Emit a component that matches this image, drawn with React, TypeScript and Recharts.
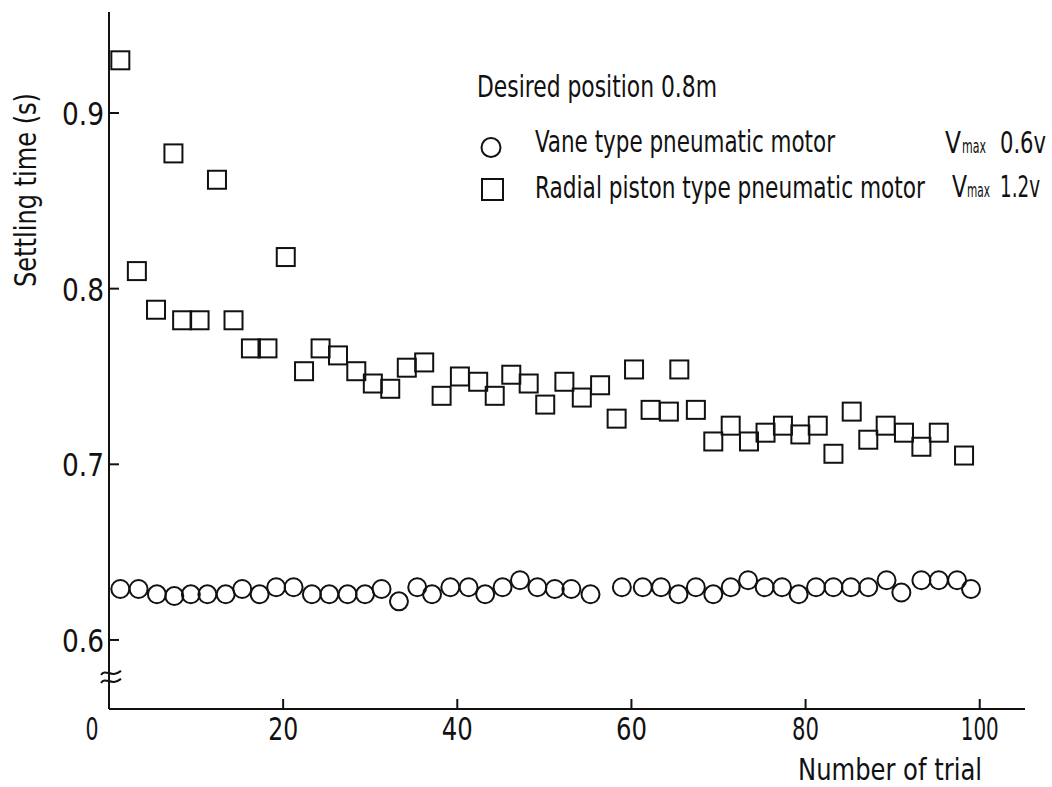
import React from "react";
import { ScatterChart, Scatter, XAxis, YAxis, ReferenceDot } from "recharts";

const xTicks = [0, 20, 40, 60, 80, 100];
const yTicks = [0.6, 0.7, 0.8, 0.9];

const vaneTrials = [1.3, 3.4, 5.5, 7.5, 9.4, 11.3, 13.4, 15.3, 17.3, 19.2, 21.2, 23.3, 25.3, 27.4, 29.4, 31.3, 33.3, 35.4, 37.1, 39.2, 41.3, 43.2, 45.2, 47.2, 49.2, 51.2, 53.1, 55.3, 58.9, 61.3, 63.4, 65.4, 67.4, 69.4, 71.4, 73.4, 75.3, 77.3, 79.2, 81.2, 83.2, 85.2, 87.2, 89.3, 91.0, 93.3, 95.3, 97.4, 99.0];
const vaneTimes = [0.629, 0.629, 0.626, 0.625, 0.626, 0.626, 0.626, 0.629, 0.626, 0.630, 0.630, 0.626, 0.626, 0.626, 0.626, 0.629, 0.622, 0.630, 0.626, 0.630, 0.630, 0.626, 0.630, 0.634, 0.630, 0.629, 0.629, 0.626, 0.630, 0.630, 0.630, 0.626, 0.630, 0.626, 0.630, 0.634, 0.630, 0.630, 0.626, 0.630, 0.630, 0.630, 0.630, 0.634, 0.627, 0.634, 0.634, 0.634, 0.629];

const pistonTrials = [1.3, 3.2, 5.4, 7.4, 8.4, 10.4, 12.4, 14.3, 16.3, 18.2, 20.3, 22.4, 24.3, 26.3, 28.4, 30.3, 32.3, 34.2, 36.2, 38.2, 40.3, 42.4, 44.3, 46.2, 48.2, 50.1, 52.3, 54.3, 56.4, 58.3, 60.3, 62.2, 64.3, 65.5, 67.4, 69.4, 71.4, 73.5, 75.4, 77.4, 79.4, 81.4, 83.2, 85.3, 87.2, 89.2, 91.3, 93.3, 95.3, 98.2];
const pistonTimes = [0.930, 0.810, 0.788, 0.877, 0.782, 0.782, 0.862, 0.782, 0.766, 0.766, 0.818, 0.753, 0.766, 0.762, 0.753, 0.746, 0.743, 0.755, 0.758, 0.739, 0.750, 0.747, 0.739, 0.751, 0.746, 0.734, 0.747, 0.738, 0.745, 0.726, 0.754, 0.731, 0.730, 0.754, 0.731, 0.713, 0.722, 0.713, 0.718, 0.722, 0.717, 0.722, 0.706, 0.730, 0.714, 0.722, 0.718, 0.710, 0.718, 0.705];

const vaneData = vaneTrials.map((t, i) => ({ x: t, y: vaneTimes[i] }));
const pistonData = pistonTrials.map((t, i) => ({ x: t, y: pistonTimes[i] }));

const FONT = "'DejaVu Sans Condensed', 'DejaVu Sans', sans-serif";
const INK = "#111";

const CircleShape = (props: any) => (
  <circle cx={props.cx} cy={props.cy} r={9} fill="none" stroke={INK} strokeWidth={2} />
);
const SquareShape = (props: any) => (
  <rect x={props.cx - 9} y={props.cy - 9} width={18} height={18} fill="none" stroke={INK} strokeWidth={2} />
);

const xLabelLen: Record<number, number> = { 0: 13, 20: 30, 40: 31, 60: 31, 80: 27, 100: 38 };

const XTick = (props: any) => {
  const { x, y, payload } = props;
  const v = payload.value as number;
  return (
    <g>
      {v !== 0 && <line x1={x} x2={x} y1={y} y2={y - 10} stroke={INK} strokeWidth={2} />}
      <text
        x={x + (v === 0 ? -17 : 0)}
        y={y + 31}
        textAnchor="middle"
        fontFamily={FONT}
        fontSize={32}
        fill={INK}
        textLength={xLabelLen[v]}
        lengthAdjust="spacingAndGlyphs"
      >
        {String(v)}
      </text>
    </g>
  );
};

const YTick = (props: any) => {
  const { x, y, payload } = props;
  const v = payload.value as number;
  return (
    <g>
      <line x1={x} x2={x + 10} y1={y} y2={y} stroke={INK} strokeWidth={2} />
      <text
        x={x - 5}
        y={y + 12}
        textAnchor="end"
        fontFamily={FONT}
        fontSize={32}
        fill={INK}
        textLength={42}
        lengthAdjust="spacingAndGlyphs"
      >
        {v.toFixed(1)}
      </text>
    </g>
  );
};

const BreakMark = (props: any) => {
  const { cx, cy } = props;
  const wave = (dy: number) =>
    `M ${cx - 8} ${cy + dy + 2} C ${cx - 3} ${cy + dy - 5}, ${cx + 2} ${cy + dy + 6}, ${cx + 12} ${cy + dy - 2}`;
  return (
    <g>
      <path d={wave(-4)} fill="none" stroke={INK} strokeWidth={2} />
      <path d={wave(4)} fill="none" stroke={INK} strokeWidth={2} />
    </g>
  );
};

const textProps = { fontFamily: FONT, fill: INK, lengthAdjust: "spacingAndGlyphs" as const };

export default function App() {
  return (
    <div style={{ position: "absolute", left: 0, top: 0, width: 1052, height: 787, background: "#fff" }}>
      <div style={{ position: "absolute", left: 0, top: 0 }}>
        <ScatterChart width={1052} height={787} margin={{ top: 12, right: 27, bottom: 48, left: 49 }}>
          <XAxis
            type="number"
            dataKey="x"
            domain={[0, 105.2]}
            ticks={xTicks}
            interval={0}
            height={30}
            axisLine={{ stroke: INK, strokeWidth: 2 }}
            tickLine={false}
            tickSize={0}
            tickMargin={0}
            tick={XTick}
            allowDataOverflow
          />
          <YAxis
            type="number"
            dataKey="y"
            domain={[0.5607, 0.9575]}
            ticks={yTicks}
            interval={0}
            width={60}
            axisLine={{ stroke: INK, strokeWidth: 2 }}
            tickLine={false}
            tickSize={0}
            tickMargin={0}
            tick={YTick}
            allowDataOverflow
          />
          <Scatter data={vaneData} shape={CircleShape} isAnimationActive={false} />
          <Scatter data={pistonData} shape={SquareShape} isAnimationActive={false} />
          <ReferenceDot x={0} y={0.579} r={0} shape={BreakMark} ifOverflow="visible" />
        </ScatterChart>
      </div>
      <svg width={1052} height={787} style={{ position: "absolute", left: 0, top: 0, pointerEvents: "none" }}>
        <text {...textProps} transform="translate(36,190) rotate(-90)" textAnchor="middle" fontSize={30} textLength={194}>
          Settling time (s)
        </text>
        <text {...textProps} x={798} y={780} fontSize={30} textLength={184}>
          Number of trial
        </text>
        <text {...textProps} x={477} y={97} fontSize={30} textLength={240}>
          Desired position 0.8m
        </text>
        <circle cx={491} cy={147.5} r={9.5} fill="none" stroke={INK} strokeWidth={2} />
        <text {...textProps} x={535} y={152} fontSize={30} textLength={300}>
          Vane type pneumatic motor
        </text>
        <rect x={482} y={179} width={21} height={21} fill="none" stroke={INK} strokeWidth={2} />
        <text {...textProps} x={535} y={198} fontSize={30} textLength={390}>
          Radial piston type pneumatic motor
        </text>
        <text {...textProps} x={945} y={153} fontSize={30} textLength={16}>V</text>
        <text {...textProps} x={962} y={153} fontSize={20} textLength={24}>max</text>
        <text {...textProps} x={1000} y={153} fontSize={30} textLength={46}>0.6v</text>
        <text {...textProps} x={952} y={197} fontSize={30} textLength={15}>V</text>
        <text {...textProps} x={967} y={197} fontSize={20} textLength={23}>max</text>
        <text {...textProps} x={1000} y={197} fontSize={30} textLength={40}>1.2v</text>
      </svg>
    </div>
  );
}
